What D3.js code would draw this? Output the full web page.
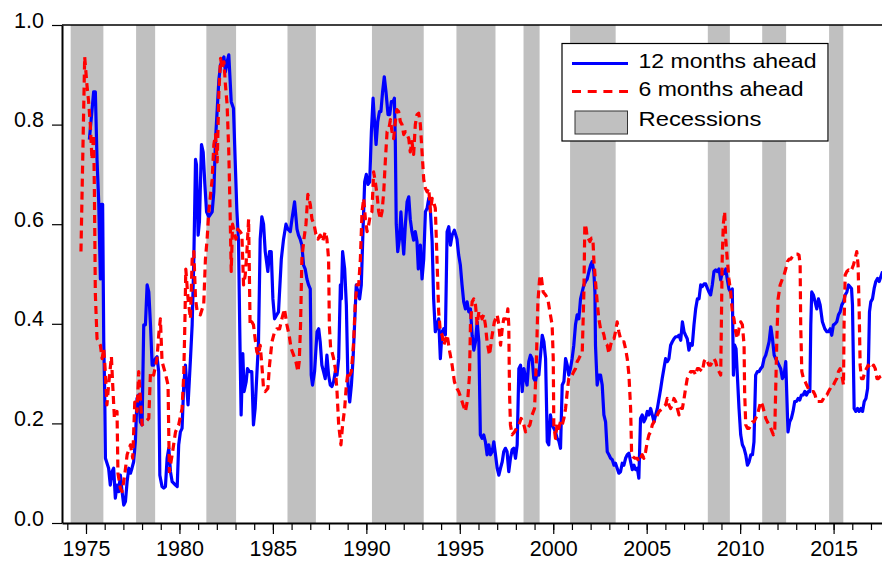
<!DOCTYPE html>
<html><head><meta charset="utf-8">
<script src="https://cdn.jsdelivr.net/npm/d3@7"></script>
<style>body{margin:0;background:#fff;} svg{display:block;font-family:"Liberation Sans",Arial,sans-serif;}</style>
</head><body><svg id="c" width="882" height="562"></svg>
<script>
const recessions = [[1974.18,1975.93],[1977.68,1978.70],[1981.44,1983.03],[1985.78,1987.30],[1990.30,1993.07],[1994.82,1996.91],[1998.41,1999.27],[2000.90,2003.34],[2008.27,2009.45],[2011.18,2012.46],[2014.76,2015.52]];

const ahead12 = [[1975.18,0.77],[1975.41,0.866],[1975.50,0.866],[1975.59,0.73],[1975.68,0.645],[1975.77,0.49],[1975.82,0.64],[1975.89,0.64],[1975.95,0.364],[1976.0,0.264],[1976.04,0.13],[1976.21,0.11],[1976.30,0.076],[1976.39,0.103],[1976.48,0.11],[1976.57,0.05],[1976.66,0.076],[1976.75,0.063],[1976.84,0.096],[1976.93,0.063],[1977.02,0.036],[1977.11,0.043],[1977.20,0.083],[1977.29,0.11],[1977.38,0.10],[1977.46,0.11],[1977.55,0.123],[1977.64,0.163],[1977.73,0.25],[1977.82,0.257],[1977.91,0.203],[1978.00,0.197],[1978.09,0.398],[1978.18,0.398],[1978.27,0.478],[1978.36,0.464],[1978.45,0.398],[1978.54,0.317],[1978.62,0.317],[1978.71,0.33],[1978.80,0.334],[1978.89,0.304],[1978.95,0.096],[1979.07,0.073],[1979.16,0.07],[1979.25,0.073],[1979.34,0.13],[1979.43,0.15],[1979.52,0.103],[1979.61,0.083],[1979.79,0.076],[1979.88,0.073],[1979.96,0.157],[1980.05,0.183],[1980.14,0.19],[1980.23,0.277],[1980.32,0.317],[1980.41,0.264],[1980.46,0.237],[1980.59,0.33],[1980.68,0.398],[1980.77,0.53],[1980.86,0.73],[1980.91,0.72],[1981.0,0.578],[1981.07,0.605],[1981.18,0.76],[1981.27,0.745],[1981.36,0.68],[1981.45,0.625],[1981.57,0.615],[1981.75,0.625],[1981.84,0.665],[1981.93,0.77],[1982.02,0.83],[1982.11,0.89],[1982.20,0.92],[1982.38,0.936],[1982.46,0.906],[1982.55,0.926],[1982.64,0.94],[1982.77,0.846],[1982.89,0.833],[1982.98,0.73],[1983.07,0.63],[1983.16,0.565],[1983.25,0.33],[1983.30,0.217],[1983.39,0.34],[1983.46,0.264],[1983.57,0.284],[1983.64,0.31],[1983.75,0.304],[1983.87,0.304],[1983.96,0.197],[1984.05,0.23],[1984.14,0.297],[1984.23,0.364],[1984.32,0.57],[1984.41,0.615],[1984.50,0.6],[1984.59,0.545],[1984.73,0.505],[1984.82,0.545],[1984.91,0.545],[1985.0,0.45],[1985.09,0.41],[1985.21,0.418],[1985.30,0.424],[1985.45,0.53],[1985.57,0.57],[1985.70,0.6],[1985.80,0.59],[1985.93,0.585],[1986.02,0.61],[1986.16,0.645],[1986.29,0.59],[1986.37,0.578],[1986.46,0.57],[1986.55,0.558],[1986.64,0.518],[1986.73,0.51],[1986.82,0.49],[1986.91,0.478],[1987.0,0.47],[1987.05,0.297],[1987.12,0.277],[1987.23,0.304],[1987.36,0.384],[1987.45,0.39],[1987.53,0.364],[1987.62,0.317],[1987.71,0.304],[1987.80,0.29],[1987.89,0.337],[1987.98,0.297],[1988.07,0.277],[1988.16,0.274],[1988.25,0.284],[1988.34,0.304],[1988.43,0.297],[1988.52,0.33],[1988.61,0.478],[1988.66,0.45],[1988.73,0.545],[1988.84,0.51],[1988.93,0.438],[1989.02,0.277],[1989.11,0.243],[1989.20,0.277],[1989.29,0.33],[1989.37,0.398],[1989.46,0.478],[1989.55,0.464],[1989.64,0.45],[1989.73,0.478],[1989.82,0.585],[1989.91,0.685],[1990.0,0.7],[1990.09,0.68],[1990.18,0.685],[1990.27,0.786],[1990.36,0.853],[1990.43,0.81],[1990.52,0.76],[1990.61,0.806],[1990.70,0.826],[1990.78,0.826],[1990.87,0.866],[1990.96,0.896],[1991.05,0.866],[1991.16,0.82],[1991.25,0.82],[1991.34,0.846],[1991.43,0.846],[1991.50,0.853],[1991.55,0.766],[1991.60,0.6],[1991.68,0.545],[1991.77,0.57],[1991.85,0.625],[1991.94,0.57],[1992.0,0.54],[1992.09,0.6],[1992.18,0.645],[1992.27,0.655],[1992.35,0.61],[1992.44,0.585],[1992.53,0.568],[1992.62,0.585],[1992.71,0.565],[1992.78,0.51],[1992.89,0.558],[1992.98,0.49],[1993.07,0.53],[1993.16,0.625],[1993.25,0.632],[1993.34,0.652],[1993.43,0.625],[1993.52,0.565],[1993.60,0.45],[1993.69,0.384],[1993.78,0.398],[1993.87,0.41],[1993.96,0.33],[1994.05,0.384],[1994.14,0.39],[1994.23,0.378],[1994.32,0.585],[1994.41,0.595],[1994.50,0.558],[1994.59,0.578],[1994.71,0.588],[1994.85,0.57],[1994.94,0.538],[1995.03,0.518],[1995.12,0.478],[1995.21,0.444],[1995.30,0.43],[1995.39,0.444],[1995.48,0.424],[1995.57,0.43],[1995.66,0.377],[1995.75,0.347],[1995.84,0.364],[1995.93,0.404],[1996.02,0.364],[1996.10,0.177],[1996.19,0.17],[1996.28,0.177],[1996.37,0.163],[1996.46,0.137],[1996.55,0.157],[1996.64,0.137],[1996.73,0.143],[1996.82,0.163],[1996.91,0.137],[1997.0,0.11],[1997.09,0.096],[1997.18,0.11],[1997.27,0.123],[1997.35,0.143],[1997.44,0.15],[1997.53,0.143],[1997.62,0.103],[1997.71,0.13],[1997.80,0.147],[1997.89,0.15],[1997.98,0.13],[1998.07,0.157],[1998.16,0.31],[1998.25,0.317],[1998.34,0.264],[1998.43,0.31],[1998.52,0.29],[1998.60,0.277],[1998.69,0.324],[1998.78,0.337],[1998.87,0.33],[1998.96,0.29],[1999.05,0.284],[1999.14,0.304],[1999.23,0.297],[1999.32,0.337],[1999.41,0.377],[1999.50,0.364],[1999.59,0.33],[1999.68,0.163],[1999.76,0.157],[1999.85,0.217],[1999.94,0.197],[2000.03,0.19],[2000.12,0.183],[2000.21,0.17],[2000.30,0.165],[2000.39,0.15],[2000.48,0.277],[2000.57,0.284],[2000.66,0.33],[2000.75,0.317],[2000.83,0.297],[2000.92,0.31],[2001.01,0.33],[2001.10,0.357],[2001.19,0.398],[2001.28,0.418],[2001.37,0.41],[2001.46,0.45],[2001.55,0.464],[2001.64,0.478],[2001.73,0.485],[2001.82,0.49],[2001.91,0.505],[2002.0,0.518],[2002.08,0.525],[2002.17,0.505],[2002.23,0.464],[2002.26,0.357],[2002.35,0.277],[2002.44,0.297],[2002.53,0.297],[2002.62,0.277],[2002.71,0.217],[2002.80,0.203],[2002.89,0.143],[2002.98,0.137],[2003.07,0.13],[2003.16,0.127],[2003.25,0.116],[2003.33,0.12],[2003.42,0.11],[2003.51,0.1],[2003.60,0.103],[2003.69,0.12],[2003.78,0.116],[2003.87,0.13],[2003.96,0.137],[2004.05,0.14],[2004.14,0.123],[2004.23,0.107],[2004.32,0.116],[2004.41,0.107],[2004.50,0.11],[2004.58,0.09],[2004.67,0.21],[2004.76,0.217],[2004.85,0.203],[2004.94,0.21],[2005.03,0.224],[2005.12,0.217],[2005.21,0.23],[2005.30,0.217],[2005.39,0.203],[2005.48,0.217],[2005.57,0.23],[2005.66,0.25],[2005.75,0.27],[2005.83,0.29],[2005.92,0.31],[2006.01,0.33],[2006.10,0.324],[2006.19,0.33],[2006.28,0.357],[2006.37,0.364],[2006.46,0.37],[2006.55,0.374],[2006.64,0.374],[2006.73,0.377],[2006.82,0.367],[2006.91,0.404],[2007.0,0.384],[2007.08,0.377],[2007.17,0.37],[2007.26,0.347],[2007.35,0.36],[2007.44,0.357],[2007.53,0.398],[2007.62,0.43],[2007.71,0.45],[2007.80,0.45],[2007.89,0.478],[2007.98,0.475],[2008.07,0.48],[2008.16,0.48],[2008.25,0.471],[2008.33,0.464],[2008.42,0.458],[2008.51,0.478],[2008.60,0.505],[2008.69,0.508],[2008.78,0.505],[2008.87,0.51],[2008.96,0.488],[2009.05,0.505],[2009.14,0.501],[2009.23,0.51],[2009.31,0.49],[2009.40,0.47],[2009.49,0.464],[2009.58,0.47],[2009.64,0.297],[2009.71,0.357],[2009.78,0.35],[2009.85,0.297],[2009.94,0.23],[2010.03,0.177],[2010.12,0.157],[2010.21,0.15],[2010.30,0.137],[2010.39,0.116],[2010.48,0.123],[2010.57,0.137],[2010.66,0.137],[2010.74,0.163],[2010.83,0.297],[2010.92,0.304],[2011.01,0.304],[2011.10,0.31],[2011.19,0.314],[2011.28,0.33],[2011.37,0.337],[2011.46,0.35],[2011.55,0.364],[2011.64,0.394],[2011.73,0.37],[2011.82,0.337],[2011.90,0.33],[2011.99,0.324],[2012.08,0.317],[2012.17,0.31],[2012.26,0.29],[2012.35,0.297],[2012.44,0.324],[2012.49,0.264],[2012.56,0.183],[2012.65,0.203],[2012.74,0.21],[2012.83,0.224],[2012.92,0.244],[2013.01,0.244],[2013.10,0.25],[2013.19,0.247],[2013.28,0.257],[2013.37,0.257],[2013.46,0.264],[2013.55,0.257],[2013.64,0.264],[2013.73,0.264],[2013.78,0.398],[2013.83,0.464],[2013.92,0.458],[2014.01,0.444],[2014.10,0.43],[2014.19,0.45],[2014.28,0.438],[2014.40,0.404],[2014.53,0.39],[2014.64,0.384],[2014.73,0.384],[2014.82,0.39],[2014.90,0.377],[2014.99,0.398],[2015.08,0.4],[2015.17,0.404],[2015.26,0.418],[2015.35,0.424],[2015.44,0.438],[2015.53,0.444],[2015.62,0.458],[2015.71,0.464],[2015.80,0.478],[2015.89,0.474],[2015.96,0.471],[2016.01,0.438],[2016.10,0.23],[2016.19,0.224],[2016.28,0.23],[2016.37,0.224],[2016.46,0.23],[2016.55,0.224],[2016.64,0.244],[2016.73,0.25],[2016.82,0.27],[2016.87,0.33],[2016.92,0.424],[2016.99,0.444],[2017.08,0.45],[2017.17,0.471],[2017.26,0.485],[2017.35,0.491],[2017.44,0.485],[2017.53,0.495],[2017.62,0.505]];

const ahead6 = [[1974.73,0.545],[1974.93,0.936],[1975.05,0.88],[1975.14,0.846],[1975.23,0.80],[1975.32,0.73],[1975.41,0.78],[1975.45,0.665],[1975.50,0.46],[1975.59,0.37],[1975.77,0.357],[1975.86,0.33],[1975.95,0.35],[1976.04,0.30],[1976.12,0.237],[1976.21,0.277],[1976.36,0.334],[1976.43,0.277],[1976.52,0.21],[1976.66,0.224],[1976.71,0.10],[1976.84,0.07],[1976.93,0.063],[1977.07,0.096],[1977.20,0.137],[1977.38,0.157],[1977.50,0.13],[1977.61,0.243],[1977.73,0.224],[1977.82,0.304],[1977.91,0.25],[1978.00,0.197],[1978.18,0.203],[1978.36,0.21],[1978.45,0.304],[1978.62,0.297],[1978.80,0.33],[1978.89,0.377],[1978.98,0.41],[1979.07,0.324],[1979.25,0.30],[1979.39,0.277],[1979.46,0.103],[1979.61,0.137],[1979.79,0.183],[1979.96,0.197],[1980.14,0.23],[1980.23,0.297],[1980.29,0.40],[1980.34,0.51],[1980.46,0.45],[1980.59,0.41],[1980.68,0.53],[1980.77,0.545],[1980.86,0.45],[1980.95,0.424],[1981.12,0.418],[1981.30,0.44],[1981.39,0.53],[1981.48,0.57],[1981.57,0.625],[1981.75,0.69],[1981.84,0.76],[1981.93,0.78],[1982.02,0.725],[1982.11,0.866],[1982.20,0.933],[1982.29,0.913],[1982.38,0.926],[1982.46,0.88],[1982.55,0.84],[1982.64,0.745],[1982.71,0.625],[1982.77,0.505],[1982.84,0.6],[1982.93,0.585],[1983.02,0.57],[1983.12,0.59],[1983.25,0.585],[1983.34,0.58],[1983.43,0.478],[1983.52,0.498],[1983.61,0.545],[1983.70,0.61],[1983.73,0.53],[1983.78,0.398],[1983.87,0.404],[1983.96,0.398],[1984.05,0.37],[1984.14,0.344],[1984.23,0.337],[1984.32,0.357],[1984.41,0.317],[1984.50,0.27],[1984.59,0.264],[1984.73,0.27],[1984.82,0.317],[1984.95,0.364],[1985.09,0.384],[1985.21,0.39],[1985.36,0.39],[1985.48,0.41],[1985.62,0.43],[1985.75,0.398],[1985.87,0.377],[1985.98,0.35],[1986.11,0.337],[1986.23,0.324],[1986.34,0.304],[1986.41,0.324],[1986.48,0.398],[1986.55,0.53],[1986.66,0.57],[1986.77,0.6],[1986.87,0.66],[1987.0,0.64],[1987.09,0.61],[1987.20,0.6],[1987.30,0.58],[1987.41,0.57],[1987.53,0.578],[1987.66,0.565],[1987.80,0.585],[1987.89,0.57],[1987.98,0.53],[1988.02,0.398],[1988.09,0.35],[1988.16,0.344],[1988.25,0.33],[1988.34,0.31],[1988.43,0.264],[1988.52,0.197],[1988.64,0.157],[1988.73,0.197],[1988.84,0.23],[1988.93,0.277],[1989.02,0.304],[1989.11,0.297],[1989.20,0.304],[1989.32,0.364],[1989.41,0.444],[1989.50,0.478],[1989.59,0.478],[1989.68,0.53],[1989.77,0.625],[1989.86,0.652],[1989.95,0.61],[1990.04,0.585],[1990.13,0.6],[1990.21,0.618],[1990.30,0.625],[1990.39,0.705],[1990.48,0.685],[1990.57,0.66],[1990.66,0.625],[1990.75,0.61],[1990.84,0.625],[1990.93,0.665],[1991.02,0.73],[1991.11,0.786],[1991.20,0.79],[1991.29,0.81],[1991.37,0.786],[1991.46,0.772],[1991.55,0.806],[1991.64,0.83],[1991.73,0.826],[1991.82,0.806],[1991.91,0.8],[1992.0,0.78],[1992.09,0.786],[1992.18,0.78],[1992.27,0.772],[1992.35,0.745],[1992.44,0.766],[1992.53,0.74],[1992.62,0.8],[1992.71,0.82],[1992.80,0.823],[1992.89,0.8],[1992.98,0.745],[1993.07,0.69],[1993.16,0.672],[1993.25,0.665],[1993.34,0.672],[1993.43,0.625],[1993.52,0.652],[1993.60,0.645],[1993.69,0.632],[1993.78,0.53],[1993.87,0.424],[1993.96,0.384],[1994.05,0.378],[1994.14,0.357],[1994.32,0.378],[1994.46,0.344],[1994.59,0.317],[1994.71,0.284],[1994.85,0.27],[1994.94,0.264],[1995.07,0.25],[1995.18,0.237],[1995.30,0.224],[1995.43,0.25],[1995.52,0.297],[1995.57,0.398],[1995.66,0.444],[1995.75,0.45],[1995.84,0.438],[1995.93,0.398],[1996.02,0.424],[1996.10,0.424],[1996.19,0.41],[1996.28,0.418],[1996.37,0.398],[1996.46,0.364],[1996.59,0.337],[1996.73,0.377],[1996.85,0.404],[1997.0,0.418],[1997.09,0.398],[1997.18,0.357],[1997.27,0.39],[1997.35,0.41],[1997.50,0.41],[1997.57,0.43],[1997.62,0.398],[1997.66,0.264],[1997.71,0.197],[1997.80,0.177],[1997.93,0.183],[1998.03,0.19],[1998.16,0.197],[1998.28,0.21],[1998.39,0.203],[1998.52,0.183],[1998.60,0.19],[1998.75,0.197],[1998.87,0.217],[1999.0,0.23],[1999.10,0.33],[1999.18,0.444],[1999.27,0.49],[1999.35,0.498],[1999.46,0.464],[1999.59,0.458],[1999.71,0.45],[1999.82,0.424],[1999.94,0.398],[2000.0,0.33],[2000.03,0.197],[2000.12,0.17],[2000.21,0.2],[2000.30,0.19],[2000.39,0.204],[2000.48,0.197],[2000.57,0.21],[2000.66,0.23],[2000.75,0.264],[2000.83,0.29],[2000.92,0.297],[2001.01,0.297],[2001.10,0.304],[2001.19,0.31],[2001.28,0.324],[2001.37,0.33],[2001.46,0.337],[2001.55,0.34],[2001.64,0.464],[2001.69,0.6],[2001.76,0.592],[2001.82,0.572],[2001.87,0.572],[2001.96,0.565],[2002.05,0.572],[2002.12,0.572],[2002.17,0.53],[2002.26,0.485],[2002.35,0.444],[2002.44,0.41],[2002.53,0.39],[2002.62,0.388],[2002.71,0.378],[2002.80,0.36],[2002.89,0.357],[2002.98,0.34],[2003.07,0.357],[2003.16,0.37],[2003.25,0.37],[2003.33,0.384],[2003.42,0.404],[2003.51,0.384],[2003.60,0.37],[2003.69,0.364],[2003.78,0.364],[2003.87,0.35],[2003.96,0.33],[2004.05,0.297],[2004.14,0.23],[2004.19,0.143],[2004.26,0.133],[2004.37,0.13],[2004.50,0.13],[2004.58,0.123],[2004.67,0.13],[2004.76,0.137],[2004.85,0.13],[2004.94,0.143],[2005.03,0.163],[2005.12,0.177],[2005.21,0.183],[2005.30,0.197],[2005.39,0.203],[2005.48,0.21],[2005.57,0.217],[2005.66,0.224],[2005.75,0.227],[2005.83,0.23],[2006.01,0.237],[2006.10,0.25],[2006.19,0.237],[2006.28,0.23],[2006.37,0.237],[2006.46,0.25],[2006.55,0.244],[2006.64,0.23],[2006.73,0.217],[2006.82,0.23],[2006.91,0.23],[2007.0,0.25],[2007.08,0.27],[2007.17,0.29],[2007.26,0.297],[2007.35,0.304],[2007.44,0.304],[2007.53,0.304],[2007.62,0.297],[2007.71,0.31],[2007.80,0.31],[2007.89,0.307],[2007.98,0.304],[2008.07,0.324],[2008.16,0.33],[2008.25,0.324],[2008.33,0.317],[2008.42,0.317],[2008.51,0.324],[2008.60,0.33],[2008.69,0.324],[2008.78,0.31],[2008.87,0.304],[2008.96,0.297],[2009.04,0.53],[2009.10,0.6],[2009.17,0.625],[2009.23,0.57],[2009.31,0.53],[2009.40,0.49],[2009.49,0.464],[2009.58,0.424],[2009.67,0.41],[2009.76,0.384],[2009.85,0.37],[2009.94,0.39],[2010.03,0.404],[2010.12,0.398],[2010.21,0.357],[2010.24,0.264],[2010.30,0.197],[2010.39,0.19],[2010.48,0.19],[2010.57,0.197],[2010.66,0.203],[2010.74,0.203],[2010.83,0.21],[2010.92,0.217],[2011.01,0.23],[2011.10,0.244],[2011.19,0.237],[2011.28,0.224],[2011.37,0.21],[2011.46,0.203],[2011.55,0.197],[2011.64,0.19],[2011.78,0.177],[2011.85,0.183],[2011.90,0.264],[2011.96,0.364],[2012.03,0.45],[2012.14,0.478],[2012.26,0.49],[2012.35,0.498],[2012.44,0.51],[2012.53,0.525],[2012.62,0.53],[2012.71,0.53],[2012.80,0.535],[2012.89,0.538],[2012.98,0.54],[2013.07,0.54],[2013.15,0.538],[2013.21,0.518],[2013.24,0.398],[2013.30,0.304],[2013.39,0.29],[2013.48,0.284],[2013.56,0.277],[2013.65,0.27],[2013.74,0.264],[2013.83,0.264],[2013.92,0.264],[2014.01,0.257],[2014.10,0.244],[2014.19,0.244],[2014.28,0.244],[2014.37,0.244],[2014.46,0.25],[2014.55,0.257],[2014.64,0.257],[2014.73,0.264],[2014.82,0.27],[2014.90,0.277],[2014.99,0.277],[2015.08,0.284],[2015.17,0.29],[2015.26,0.304],[2015.35,0.31],[2015.44,0.297],[2015.53,0.277],[2015.56,0.398],[2015.62,0.498],[2015.71,0.505],[2015.80,0.508],[2015.89,0.505],[2015.98,0.51],[2016.06,0.518],[2016.15,0.53],[2016.24,0.545],[2016.31,0.518],[2016.37,0.424],[2016.42,0.317],[2016.49,0.29],[2016.58,0.29],[2016.67,0.304],[2016.76,0.31],[2016.85,0.317],[2016.94,0.31],[2017.03,0.31],[2017.14,0.317],[2017.23,0.31],[2017.32,0.29],[2017.40,0.29],[2017.49,0.294],[2017.62,0.297]];

const yTickValues = [0, 0.2, 0.4, 0.6, 0.8, 1.0];
const xMajorYears = [1975, 1980, 1985, 1990, 1995, 2000, 2005, 2010, 2015];
const xMinorYears = d3.range(1974, 2018);
const seriesNames = ["12 months ahead", "6 months ahead", "Recessions"];

const L = 62, R = 882, T = 25, B = 523;
const svg = d3.select("#c");
const x = d3.scaleLinear().domain([1973.716, 2017.59]).range([L, R]);
const y = d3.scaleLinear().domain([0, 1]).range([B, T]);

svg.append("defs").append("clipPath").attr("id","clip")
  .append("rect").attr("x", L).attr("y", T).attr("width", R - L).attr("height", B - T);

const plot = svg.append("g").attr("clip-path", "url(#clip)");

plot.selectAll("rect.rec").data(recessions).enter().append("rect")
  .attr("class","rec")
  .attr("x", d => x(d[0])).attr("width", d => x(d[1]) - x(d[0]))
  .attr("y", T).attr("height", B - T)
  .attr("fill", "#c0c0c0");

const line = d3.line().x(d => x(d[0])).y(d => y(d[1]));

plot.append("path").datum(ahead12).attr("d", line)
  .attr("fill","none").attr("stroke","#0000ff").attr("stroke-width",3.2)
  .attr("stroke-linejoin","round");
plot.append("path").datum(ahead6).attr("d", line)
  .attr("fill","none").attr("stroke","#ff0000").attr("stroke-width",3.2)
  .attr("stroke-dasharray","8,5").attr("stroke-linejoin","round");

// frame
svg.append("line").attr("x1", L).attr("x2", R).attr("y1", T).attr("y2", T).attr("stroke","#000").attr("stroke-width",1.5);

// y axis
const yAxis = d3.axisLeft(y).tickValues(yTickValues).tickFormat(d3.format(".1f")).tickSize(10).tickSizeOuter(0);
const gy = svg.append("g").attr("transform", `translate(${L},0)`).call(yAxis);
gy.select(".domain").attr("stroke-width", 2);
gy.selectAll(".tick line").attr("stroke-width", 1.2);
gy.selectAll(".tick text").attr("font-size", 21.5).attr("font-family", '"Liberation Sans",Arial,sans-serif')
  .attr("fill","#000").attr("x", -18).attr("dy", null).attr("y", 2);

// x axis minor ticks
const xMinor = d3.axisBottom(x).tickValues(xMinorYears).tickSize(7).tickFormat("").tickSizeOuter(0);
const gxm = svg.append("g").attr("transform", `translate(0,${B})`).call(xMinor);
gxm.select(".domain").attr("stroke-width", 2);
gxm.selectAll(".tick line").attr("stroke-width", 1.2);

// x axis major ticks
const xMajor = d3.axisBottom(x).tickValues(xMajorYears).tickSize(11).tickFormat(d3.format("d")).tickSizeOuter(0);
const gx = svg.append("g").attr("transform", `translate(0,${B})`).call(xMajor);
gx.select(".domain").remove();
gx.selectAll(".tick line").attr("stroke-width", 1.2);
gx.selectAll(".tick text").attr("font-size", 21.5).attr("font-family", '"Liberation Sans",Arial,sans-serif')
  .attr("fill","#000").attr("y", 33).attr("dy", null);

// legend
const lg = svg.append("g");
lg.append("rect").attr("x", 562).attr("y", 43.5).attr("width", 266).attr("height", 97.5)
  .attr("fill","#fff").attr("stroke","#000").attr("stroke-width",1.2);
lg.append("line").attr("x1",572).attr("x2",628).attr("y1",63.5).attr("y2",63.5)
  .attr("stroke","#0000ff").attr("stroke-width",3);
lg.append("line").attr("x1",572).attr("x2",628).attr("y1",91.5).attr("y2",91.5)
  .attr("stroke","#ff0000").attr("stroke-width",3).attr("stroke-dasharray","9,6.7");
lg.append("rect").attr("x",575).attr("y",111).attr("width",52.5).attr("height",23)
  .attr("fill","#c0c0c0").attr("stroke","#333").attr("stroke-width",1);
const legendY = [67.5, 96, 125.5];
const legendW = [178, 165, 123];
lg.selectAll("text").data(seriesNames).enter().append("text")
  .attr("x", 638.5).attr("y", (d,i) => legendY[i])
  .attr("font-size", 21).attr("fill","#000")
  .attr("textLength", (d,i) => legendW[i]).attr("lengthAdjust","spacingAndGlyphs")
  .text(d => d);
</script></body></html>
